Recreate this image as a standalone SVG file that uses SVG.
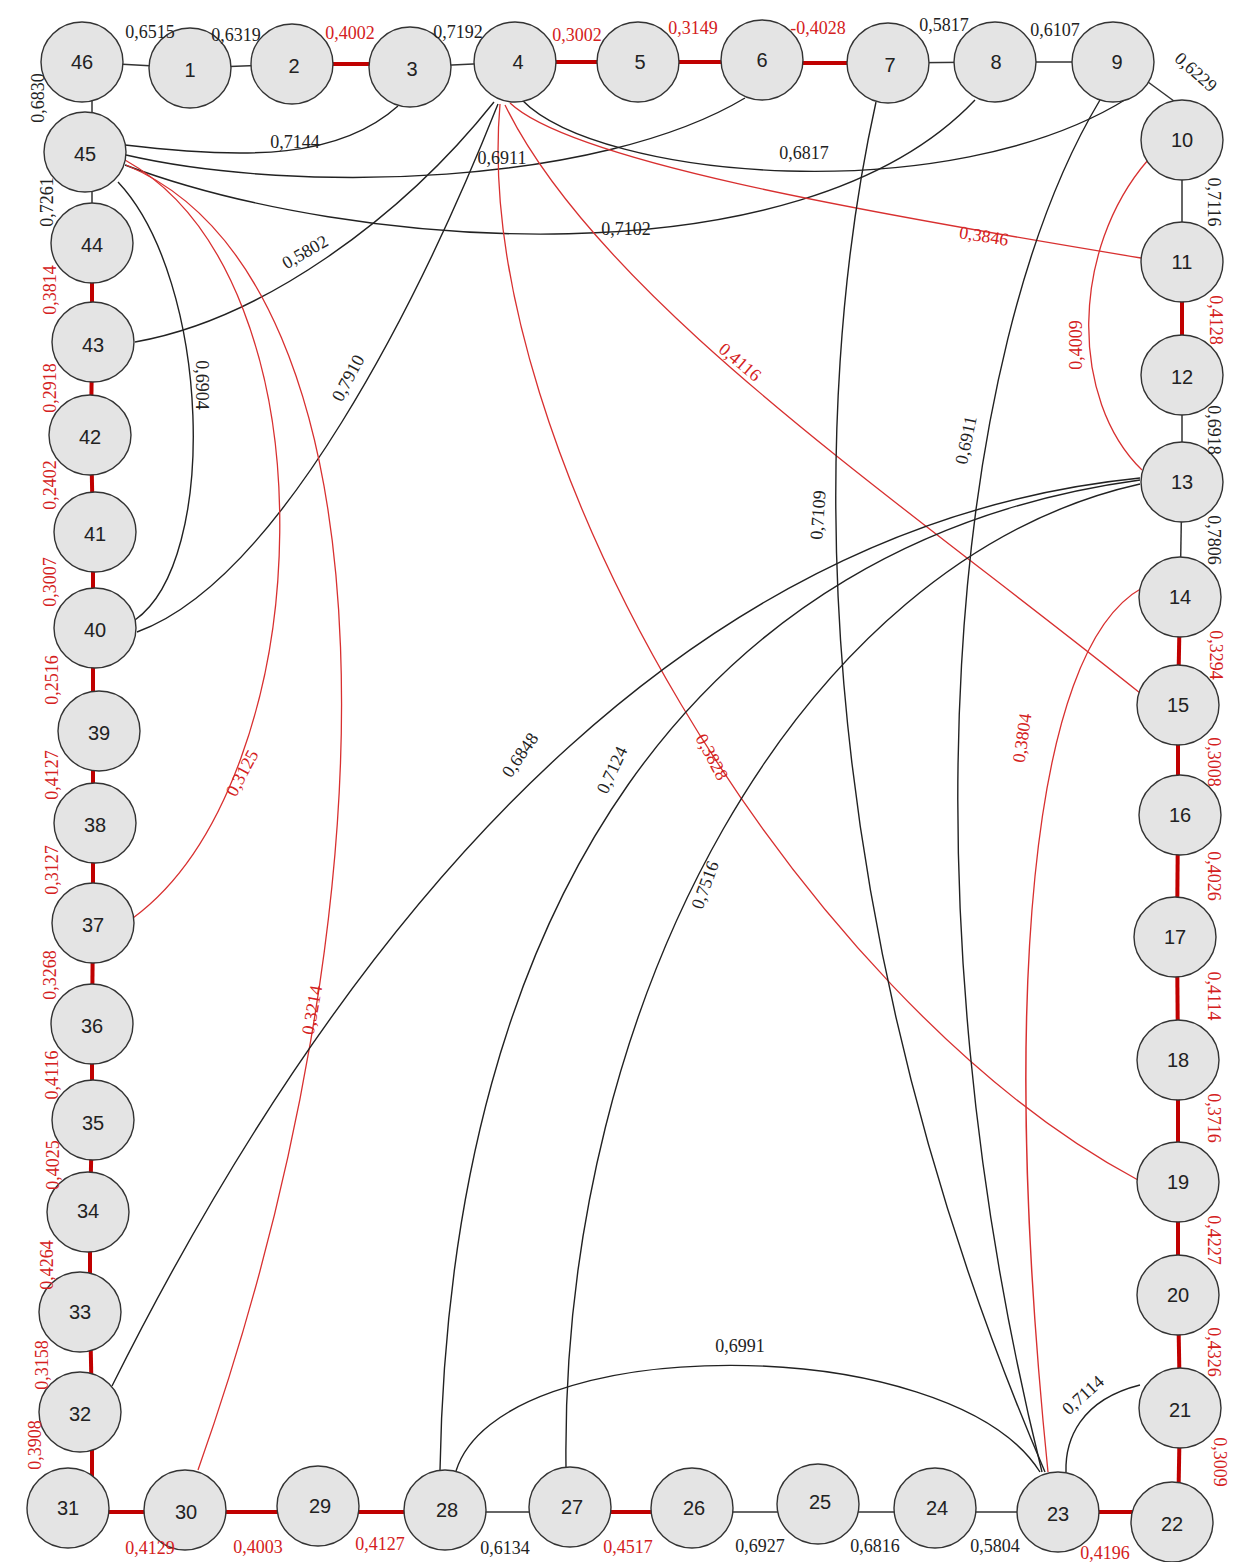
<svg xmlns="http://www.w3.org/2000/svg" width="1241" height="1562" viewBox="0 0 1241 1562">
<style>
.bg{fill:#ffffff}
.n ellipse{fill:#e4e4e4;stroke:#333;stroke-width:1.4}
.n text{font-family:"Liberation Sans",Arial,sans-serif;font-size:20px;fill:#222;text-anchor:middle;dominant-baseline:central}
.rb{stroke:#333;stroke-width:1.5;fill:none}
.rr{stroke:#c00000;stroke-width:4;fill:none}
.cb{stroke:#222;stroke-width:1.4;fill:none}
.cr{stroke:#d83030;stroke-width:1.3;fill:none}
.l{font-family:"Liberation Serif","Times New Roman",serif;font-size:18px;text-anchor:middle;dominant-baseline:central}
.lb{fill:#222}
.lr{fill:#d42020}
</style>
<rect class="bg" width="1241" height="1562"/>
<g id="connectors">
<!-- ring edges top -->
<line class="rb" x1="82" y1="62" x2="190" y2="68"/>
<line class="rb" x1="190" y1="68" x2="292" y2="64"/>
<line class="rr" x1="292" y1="64" x2="410" y2="64"/>
<line class="rb" x1="410" y1="67" x2="515" y2="62"/>
<line class="rr" x1="515" y1="62" x2="638" y2="62"/>
<line class="rr" x1="638" y1="62" x2="762" y2="62"/>
<line class="rr" x1="762" y1="63" x2="888" y2="63"/>
<line class="rb" x1="888" y1="63" x2="995" y2="62"/>
<line class="rb" x1="995" y1="62" x2="1113" y2="62"/>
<polyline class="rb" points="1148,82 1178,104"/>
<!-- right -->
<line class="rb" x1="1182" y1="140" x2="1182" y2="262"/>
<line class="rr" x1="1182" y1="262" x2="1182" y2="375"/>
<line class="rb" x1="1182" y1="375" x2="1182" y2="482"/>
<line class="rb" x1="1182" y1="482" x2="1180" y2="597"/>
<line class="rr" x1="1180" y1="597" x2="1178" y2="705"/>
<line class="rr" x1="1178" y1="705" x2="1178" y2="815"/>
<line class="rr" x1="1178" y1="815" x2="1177" y2="937"/>
<line class="rr" x1="1177" y1="937" x2="1178" y2="1060"/>
<line class="rr" x1="1178" y1="1060" x2="1178" y2="1182"/>
<line class="rr" x1="1178" y1="1182" x2="1178" y2="1295"/>
<line class="rr" x1="1178" y1="1295" x2="1180" y2="1408"/>
<line class="rr" x1="1180" y1="1408" x2="1178" y2="1522"/>
<!-- bottom -->
<line class="rr" x1="1172" y1="1512" x2="1058" y2="1512"/>
<line class="rb" x1="1058" y1="1512" x2="935" y2="1512"/>
<line class="rb" x1="935" y1="1512" x2="818" y2="1512"/>
<line class="rb" x1="818" y1="1512" x2="692" y2="1512"/>
<line class="rr" x1="692" y1="1512" x2="570" y2="1512"/>
<line class="rb" x1="570" y1="1512" x2="445" y2="1512"/>
<line class="rr" x1="445" y1="1512" x2="318" y2="1512"/>
<line class="rr" x1="318" y1="1512" x2="185" y2="1512"/>
<line class="rr" x1="185" y1="1512" x2="68" y2="1512"/>
<!-- left -->
<line class="rr" x1="92" y1="1508" x2="92" y2="1412"/>
<line class="rr" x1="92" y1="1412" x2="90" y2="1312"/>
<line class="rr" x1="90" y1="1312" x2="90" y2="1212"/>
<line class="rr" x1="90" y1="1212" x2="92" y2="1120"/>
<line class="rr" x1="92" y1="1120" x2="92" y2="1024"/>
<line class="rr" x1="92" y1="1024" x2="93" y2="923"/>
<line class="rr" x1="93" y1="923" x2="93" y2="823"/>
<line class="rr" x1="93" y1="823" x2="93" y2="731"/>
<line class="rr" x1="93" y1="731" x2="93" y2="628"/>
<line class="rr" x1="93" y1="628" x2="93" y2="532"/>
<line class="rr" x1="93" y1="532" x2="91" y2="435"/>
<line class="rr" x1="91" y1="435" x2="92" y2="342"/>
<line class="rr" x1="92" y1="342" x2="92" y2="243"/>
<line class="rb" x1="92" y1="243" x2="92" y2="152"/>
<line class="rb" x1="92" y1="152" x2="92" y2="62"/>
<!-- chords -->
<path class="cb" d="M125,145 C250,160 340,158 398,106"/>
<path class="cb" d="M126,155 C300,195 600,185 745,98"/>
<path class="cb" d="M125,165 C350,250 800,285 975,100"/>
<path class="cb" d="M522,100 C600,180 950,210 1128,98"/>
<path class="cr" d="M510,103 C570,160 850,210 1141,258"/>
<path class="cr" d="M505,105 C600,300 900,500 1140,693"/>
<path class="cr" d="M500,104 C470,450 800,1000 1138,1180"/>
<path class="cb" d="M137,632 C280,580 420,300 498,104"/>
<path class="cb" d="M135,342 C260,320 400,220 494,102"/>
<path class="cb" d="M118,182 C210,280 220,560 135,620"/>
<path class="cr" d="M125,160 C340,280 320,780 133,918"/>
<path class="cr" d="M126,165 C400,280 400,900 198,1470"/>
<path class="cb" d="M876,102 C810,400 800,900 1045,1472"/>
<path class="cb" d="M1100,100 C950,350 900,900 1042,1472"/>
<path class="cb" d="M1140,478 C720,520 380,850 112,1386"/>
<path class="cb" d="M1140,480 C700,540 450,900 440,1470"/>
<path class="cb" d="M1140,484 C800,560 560,1000 566,1468"/>
<path class="cr" d="M1148,160 C1070,250 1070,400 1142,470"/>
<path class="cr" d="M1142,588 C1030,650 1000,1000 1048,1472"/>
<path class="cb" d="M456,1471 C500,1330 950,1330 1040,1472"/>
<path class="cb" d="M1140,1385 C1080,1400 1065,1440 1066,1472"/>
</g>
<g id="nodes">
<g id="n46" class="n"><ellipse cx="82" cy="62" rx="41" ry="40"/><text x="82" y="62">46</text></g>
<g id="n1" class="n"><ellipse cx="190" cy="68" rx="41" ry="40"/><text x="190" y="70">1</text></g>
<g id="n2" class="n"><ellipse cx="292" cy="64" rx="41" ry="40"/><text x="294" y="66">2</text></g>
<g id="n3" class="n"><ellipse cx="410" cy="67" rx="41" ry="40"/><text x="412" y="69">3</text></g>
<g id="n4" class="n"><ellipse cx="515" cy="62" rx="41" ry="40"/><text x="518" y="62">4</text></g>
<g id="n5" class="n"><ellipse cx="638" cy="62" rx="41" ry="40"/><text x="640" y="62">5</text></g>
<g id="n6" class="n"><ellipse cx="762" cy="60" rx="41" ry="40"/><text x="762" y="60">6</text></g>
<g id="n7" class="n"><ellipse cx="888" cy="63" rx="41" ry="40"/><text x="890" y="65">7</text></g>
<g id="n8" class="n"><ellipse cx="995" cy="62" rx="41" ry="40"/><text x="996" y="62">8</text></g>
<g id="n9" class="n"><ellipse cx="1113" cy="62" rx="41" ry="40"/><text x="1117" y="62">9</text></g>
<g id="n10" class="n"><ellipse cx="1182" cy="140" rx="41" ry="40"/><text x="1182" y="140">10</text></g>
<g id="n11" class="n"><ellipse cx="1182" cy="262" rx="41" ry="40"/><text x="1182" y="262">11</text></g>
<g id="n12" class="n"><ellipse cx="1182" cy="375" rx="41" ry="40"/><text x="1182" y="377">12</text></g>
<g id="n13" class="n"><ellipse cx="1182" cy="482" rx="41" ry="40"/><text x="1182" y="482">13</text></g>
<g id="n14" class="n"><ellipse cx="1180" cy="597" rx="41" ry="40"/><text x="1180" y="597">14</text></g>
<g id="n15" class="n"><ellipse cx="1178" cy="705" rx="41" ry="40"/><text x="1178" y="705">15</text></g>
<g id="n16" class="n"><ellipse cx="1180" cy="815" rx="41" ry="40"/><text x="1180" y="815">16</text></g>
<g id="n17" class="n"><ellipse cx="1175" cy="937" rx="41" ry="40"/><text x="1175" y="937">17</text></g>
<g id="n18" class="n"><ellipse cx="1178" cy="1060" rx="41" ry="40"/><text x="1178" y="1060">18</text></g>
<g id="n19" class="n"><ellipse cx="1178" cy="1182" rx="41" ry="40"/><text x="1178" y="1182">19</text></g>
<g id="n20" class="n"><ellipse cx="1178" cy="1295" rx="41" ry="40"/><text x="1178" y="1295">20</text></g>
<g id="n21" class="n"><ellipse cx="1180" cy="1408" rx="41" ry="40"/><text x="1180" y="1410">21</text></g>
<g id="n22" class="n"><ellipse cx="1172" cy="1522" rx="41" ry="40"/><text x="1172" y="1524">22</text></g>
<g id="n23" class="n"><ellipse cx="1058" cy="1512" rx="41" ry="40"/><text x="1058" y="1514">23</text></g>
<g id="n24" class="n"><ellipse cx="935" cy="1508" rx="41" ry="40"/><text x="937" y="1508">24</text></g>
<g id="n25" class="n"><ellipse cx="818" cy="1504" rx="41" ry="40"/><text x="820" y="1502">25</text></g>
<g id="n26" class="n"><ellipse cx="692" cy="1508" rx="41" ry="40"/><text x="694" y="1508">26</text></g>
<g id="n27" class="n"><ellipse cx="570" cy="1507" rx="41" ry="40"/><text x="572" y="1507">27</text></g>
<g id="n28" class="n"><ellipse cx="445" cy="1510" rx="41" ry="40"/><text x="447" y="1510">28</text></g>
<g id="n29" class="n"><ellipse cx="318" cy="1506" rx="41" ry="40"/><text x="320" y="1506">29</text></g>
<g id="n30" class="n"><ellipse cx="185" cy="1510" rx="41" ry="40"/><text x="186" y="1512">30</text></g>
<g id="n31" class="n"><ellipse cx="68" cy="1508" rx="41" ry="40"/><text x="68" y="1508">31</text></g>
<g id="n32" class="n"><ellipse cx="80" cy="1412" rx="41" ry="40"/><text x="80" y="1414">32</text></g>
<g id="n33" class="n"><ellipse cx="80" cy="1312" rx="41" ry="40"/><text x="80" y="1312">33</text></g>
<g id="n34" class="n"><ellipse cx="88" cy="1212" rx="41" ry="40"/><text x="88" y="1211">34</text></g>
<g id="n35" class="n"><ellipse cx="93" cy="1120" rx="41" ry="40"/><text x="93" y="1123">35</text></g>
<g id="n36" class="n"><ellipse cx="92" cy="1024" rx="41" ry="40"/><text x="92" y="1026">36</text></g>
<g id="n37" class="n"><ellipse cx="93" cy="923" rx="41" ry="40"/><text x="93" y="925">37</text></g>
<g id="n38" class="n"><ellipse cx="95" cy="823" rx="41" ry="40"/><text x="95" y="825">38</text></g>
<g id="n39" class="n"><ellipse cx="99" cy="731" rx="41" ry="40"/><text x="99" y="733">39</text></g>
<g id="n40" class="n"><ellipse cx="95" cy="628" rx="41" ry="40"/><text x="95" y="630">40</text></g>
<g id="n41" class="n"><ellipse cx="95" cy="532" rx="41" ry="40"/><text x="95" y="534">41</text></g>
<g id="n42" class="n"><ellipse cx="90" cy="435" rx="41" ry="40"/><text x="90" y="437">42</text></g>
<g id="n43" class="n"><ellipse cx="93" cy="342" rx="41" ry="40"/><text x="93" y="345">43</text></g>
<g id="n44" class="n"><ellipse cx="92" cy="243" rx="41" ry="40"/><text x="92" y="245">44</text></g>
<g id="n45" class="n"><ellipse cx="85" cy="152" rx="41" ry="40"/><text x="85" y="154">45</text></g>
</g>
<g id="labels">
<!-- top -->
<text class="l lb" x="150" y="32">0,6515</text>
<text class="l lb" x="236" y="35">0,6319</text>
<text class="l lr" x="350" y="33">0,4002</text>
<text class="l lb" x="458" y="32">0,7192</text>
<text class="l lr" x="577" y="35">0,3002</text>
<text class="l lr" x="693" y="28">0,3149</text>
<text class="l lr" x="818" y="28">-0,4028</text>
<text class="l lb" x="944" y="25">0,5817</text>
<text class="l lb" x="1055" y="30">0,6107</text>
<text class="l lb" transform="translate(1196,72) rotate(42)" x="0" y="0">0,6229</text>
<!-- right -->
<text class="l lb" transform="translate(1214,202) rotate(90)" x="0" y="0">0,7116</text>
<text class="l lr" transform="translate(1216,320) rotate(90)" x="0" y="0">0,4128</text>
<text class="l lb" transform="translate(1214,430) rotate(90)" x="0" y="0">0,6918</text>
<text class="l lb" transform="translate(1214,540) rotate(90)" x="0" y="0">0,7806</text>
<text class="l lr" transform="translate(1216,655) rotate(90)" x="0" y="0">0,3294</text>
<text class="l lr" transform="translate(1214,762) rotate(90)" x="0" y="0">0,3008</text>
<text class="l lr" transform="translate(1214,876) rotate(90)" x="0" y="0">0,4026</text>
<text class="l lr" transform="translate(1214,996) rotate(90)" x="0" y="0">0,4114</text>
<text class="l lr" transform="translate(1214,1118) rotate(90)" x="0" y="0">0,3716</text>
<text class="l lr" transform="translate(1214,1240) rotate(90)" x="0" y="0">0,4227</text>
<text class="l lr" transform="translate(1214,1352) rotate(90)" x="0" y="0">0,4326</text>
<text class="l lr" transform="translate(1220,1462) rotate(90)" x="0" y="0">0,3009</text>
<!-- bottom -->
<text class="l lr" x="150" y="1548">0,4129</text>
<text class="l lr" x="258" y="1547">0,4003</text>
<text class="l lr" x="380" y="1544">0,4127</text>
<text class="l lb" x="505" y="1548">0,6134</text>
<text class="l lr" x="628" y="1547">0,4517</text>
<text class="l lb" x="760" y="1546">0,6927</text>
<text class="l lb" x="875" y="1546">0,6816</text>
<text class="l lb" x="995" y="1546">0,5804</text>
<text class="l lr" x="1105" y="1553">0,4196</text>
<!-- left -->
<text class="l lb" transform="translate(38,98) rotate(-90)" x="0" y="0">0,6830</text>
<text class="l lb" transform="translate(47,202) rotate(-90)" x="0" y="0">0,7261</text>
<text class="l lr" transform="translate(50,290) rotate(-90)" x="0" y="0">0,3814</text>
<text class="l lr" transform="translate(50,388) rotate(-90)" x="0" y="0">0,2918</text>
<text class="l lr" transform="translate(50,485) rotate(-90)" x="0" y="0">0,2402</text>
<text class="l lr" transform="translate(50,582) rotate(-90)" x="0" y="0">0,3007</text>
<text class="l lr" transform="translate(52,680) rotate(-90)" x="0" y="0">0,2516</text>
<text class="l lr" transform="translate(52,775) rotate(-90)" x="0" y="0">0,4127</text>
<text class="l lr" transform="translate(52,870) rotate(-90)" x="0" y="0">0,3127</text>
<text class="l lr" transform="translate(50,975) rotate(-90)" x="0" y="0">0,3268</text>
<text class="l lr" transform="translate(52,1075) rotate(-90)" x="0" y="0">0,4116</text>
<text class="l lr" transform="translate(53,1165) rotate(-90)" x="0" y="0">0,4025</text>
<text class="l lr" transform="translate(47,1265) rotate(-90)" x="0" y="0">0,4264</text>
<text class="l lr" transform="translate(42,1365) rotate(-90)" x="0" y="0">0,3158</text>
<text class="l lr" transform="translate(35,1445) rotate(-90)" x="0" y="0">0,3908</text>
<!-- chords -->
<text class="l lb" x="295" y="142">0,7144</text>
<text class="l lb" x="502" y="158">0,6911</text>
<text class="l lb" x="804" y="153">0,6817</text>
<text class="l lb" x="626" y="229">0,7102</text>
<text class="l lr" transform="translate(984,236) rotate(9)" x="0" y="0">0,3846</text>
<text class="l lb" transform="translate(305,252) rotate(-30)" x="0" y="0">0,5802</text>
<text class="l lb" transform="translate(348,378) rotate(-62)" x="0" y="0">0,7910</text>
<text class="l lb" transform="translate(202,385) rotate(90)" x="0" y="0">0,6904</text>
<text class="l lr" transform="translate(740,362) rotate(40)" x="0" y="0">0,4116</text>
<text class="l lr" transform="translate(1076,345) rotate(-90)" x="0" y="0">0,4009</text>
<text class="l lb" transform="translate(966,440) rotate(-78)" x="0" y="0">0,6911</text>
<text class="l lb" transform="translate(818,515) rotate(-86)" x="0" y="0">0,7109</text>
<text class="l lb" transform="translate(520,755) rotate(-55)" x="0" y="0">0,6848</text>
<text class="l lb" transform="translate(612,770) rotate(-65)" x="0" y="0">0,7124</text>
<text class="l lr" transform="translate(712,757) rotate(62)" x="0" y="0">0,3828</text>
<text class="l lb" transform="translate(705,885) rotate(-70)" x="0" y="0">0,7516</text>
<text class="l lr" transform="translate(1022,738) rotate(-82)" x="0" y="0">0,3804</text>
<text class="l lr" transform="translate(242,773) rotate(-62)" x="0" y="0">0,3125</text>
<text class="l lr" transform="translate(312,1010) rotate(-80)" x="0" y="0">0,3214</text>
<text class="l lb" x="740" y="1346">0,6991</text>
<text class="l lb" transform="translate(1083,1395) rotate(-42)" x="0" y="0">0,7114</text>
</g>
</svg>
